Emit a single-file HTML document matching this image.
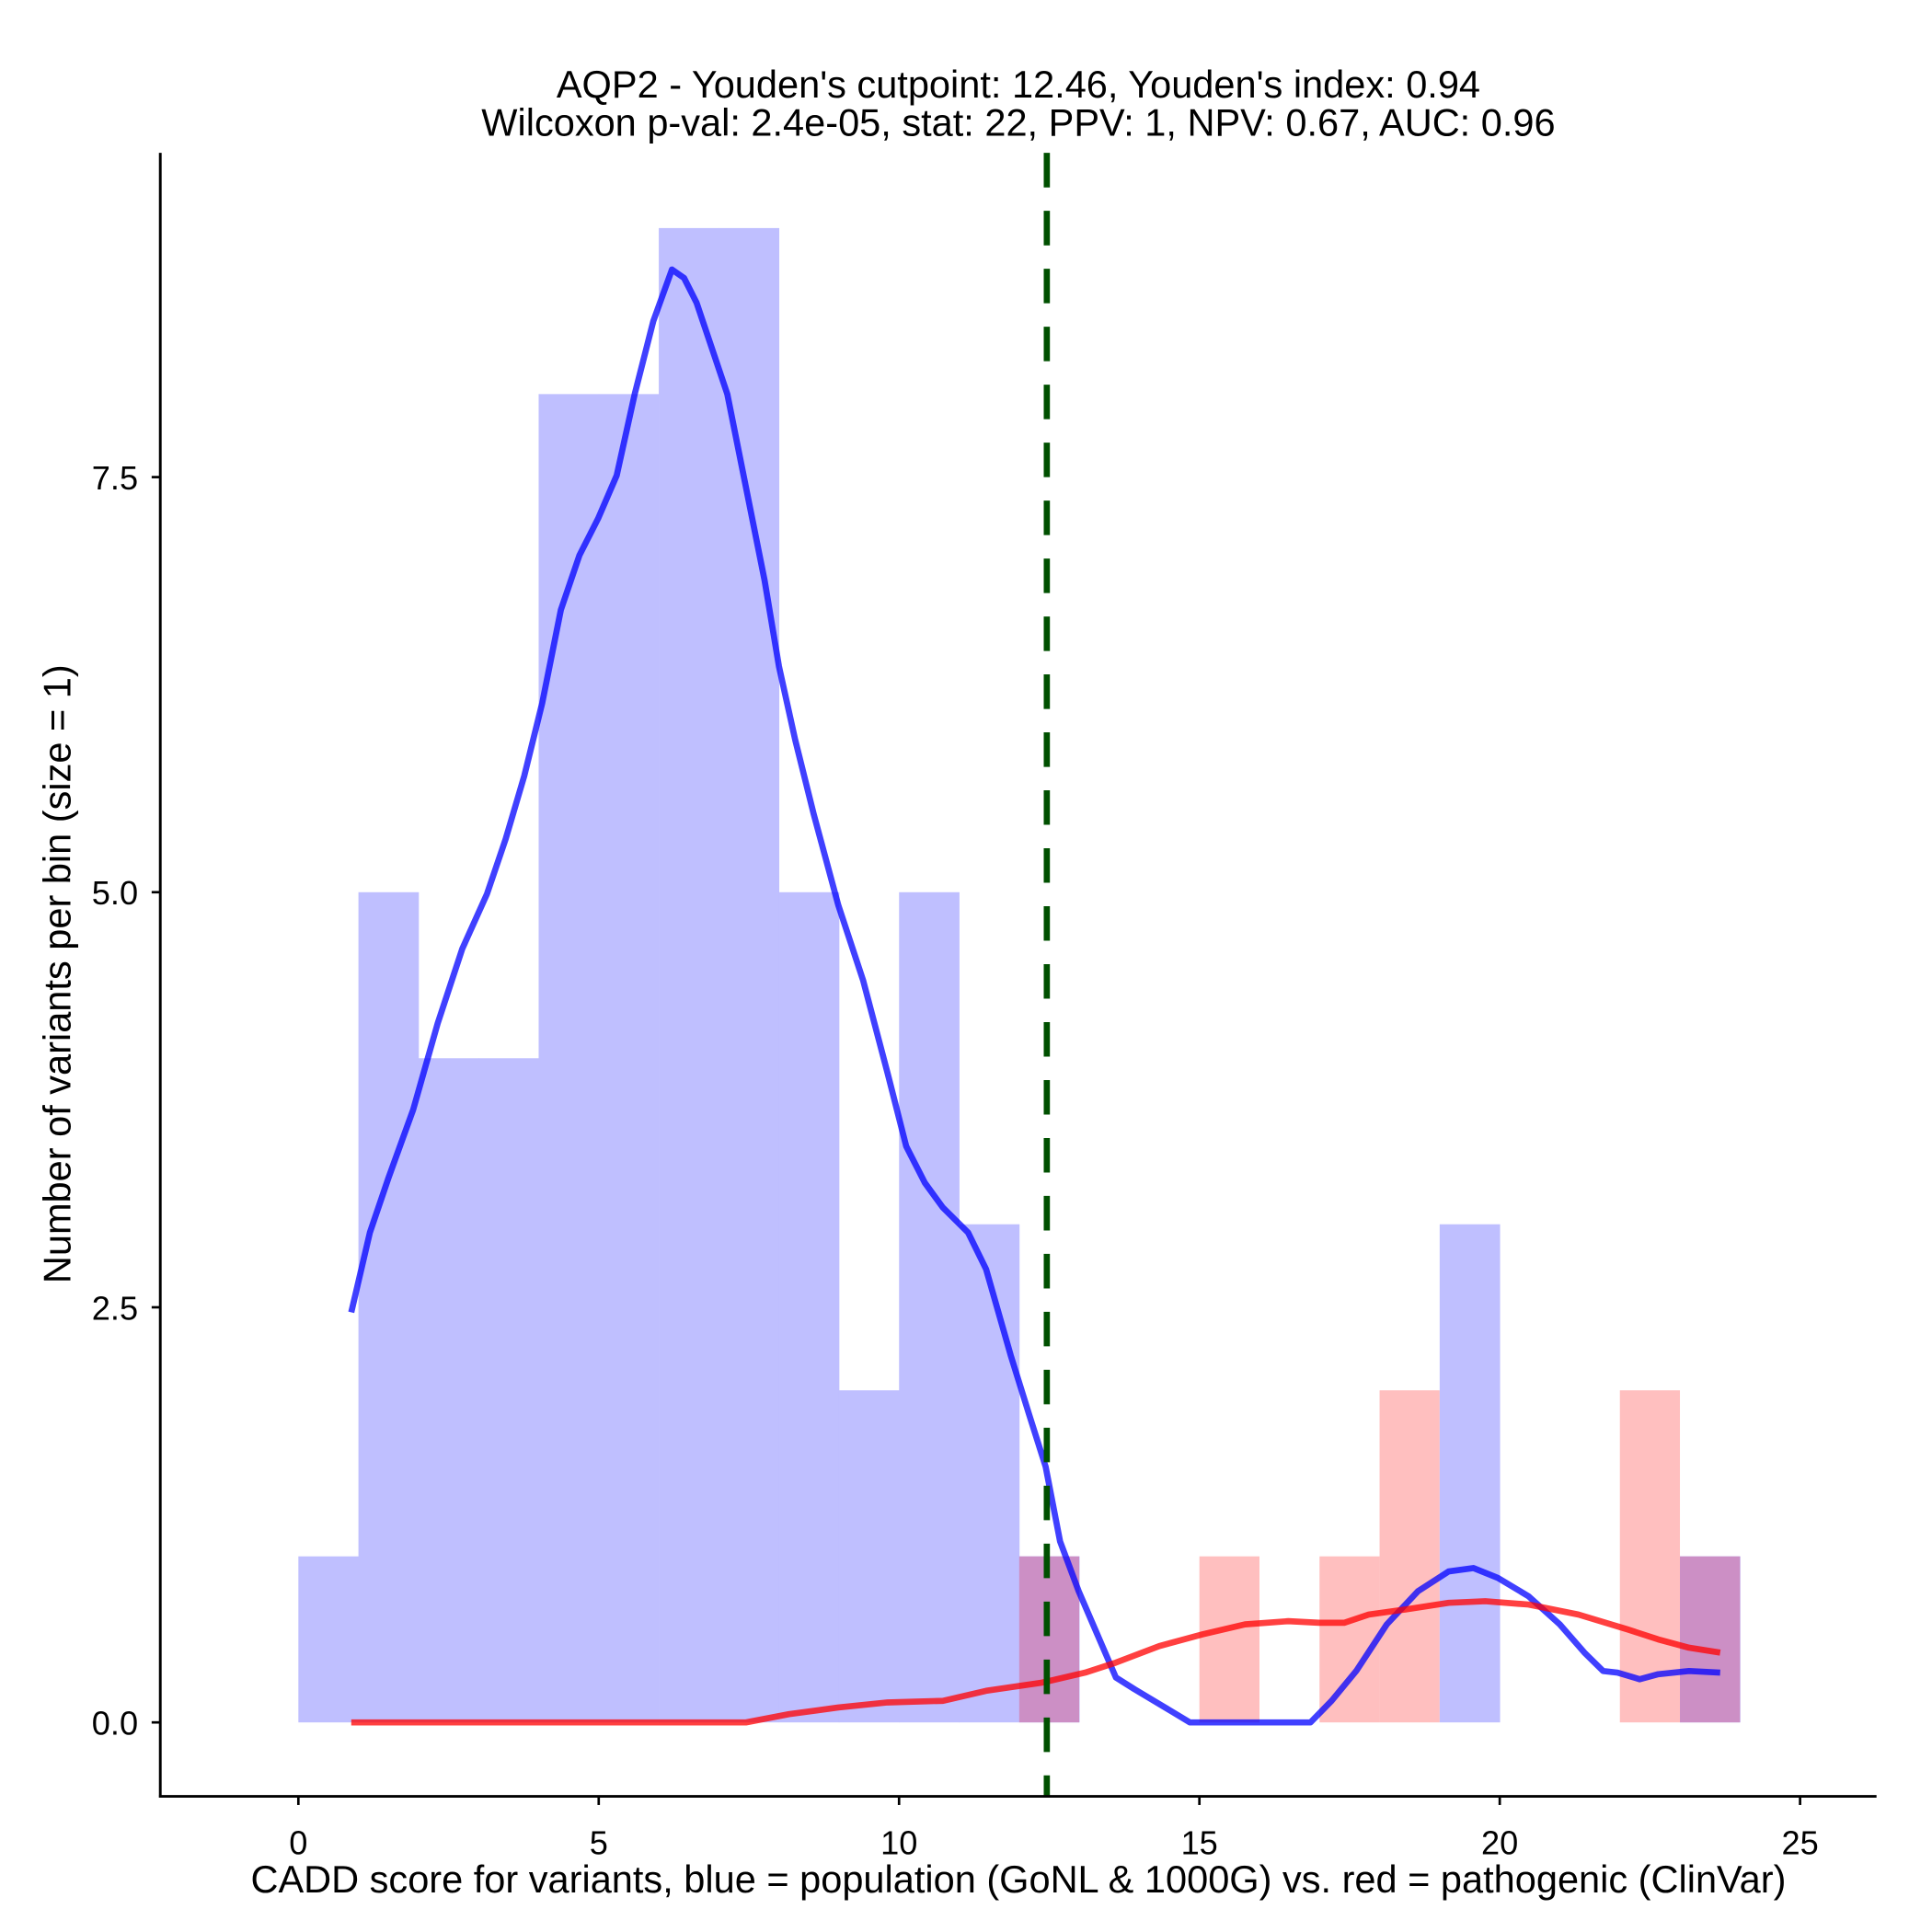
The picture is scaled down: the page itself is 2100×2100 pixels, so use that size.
<!DOCTYPE html>
<html><head><meta charset="utf-8"><style>
html,body{margin:0;padding:0;background:#fff;}
svg{display:block;font-family:"Liberation Sans",Arial,sans-serif;}
</style></head><body>
<svg id="chart" width="2100" height="2100" viewBox="0 0 1567 1567" xmlns="http://www.w3.org/2000/svg">
<rect width="1567" height="1567" fill="#fff"/>
<text x="826" y="79" font-size="31" text-anchor="middle">AQP2 - Youden's cutpoint: 12.46, Youden's index: 0.94</text>
<text x="826" y="110" font-size="31" text-anchor="middle">Wilcoxon p-val: 2.4e-05, stat: 22, PPV: 1, NPV: 0.67, AUC: 0.96</text>
<g id="bars"></g>
<g id="curves"></g>
<g id="axes"></g>
<text x="826" y="1535" font-size="31" text-anchor="middle">CADD score for variants, blue = population (GoNL &amp; 1000G) vs. red = pathogenic (ClinVar)</text>
<text transform="translate(57,790) rotate(-90)" font-size="31" text-anchor="middle">Number of variants per bin (size = 1)</text>
</svg>
<script>
const blueCounts = [1,5,4,4,8,8,9,9,5,2,5,3,1,0,0,0,0,0,0,3,0,0,0,1];
const redCounts  = [0,0,0,0,0,0,0,0,0,0,0,0,1,0,0,1,0,1,2,0,0,0,2,1];
const xTicks = [0,5,10,15,20,25];
const yTicks = [0,2.5,5,7.5];
const yTickLabels = ["0.0","2.5","5.0","7.5"];
const cutpoint = 12.46;
const blueX = [0.88,1.19,1.50,1.91,2.32,2.73,3.14,3.45,3.76,4.06,4.37,4.68,4.99,5.30,5.60,5.91,6.22,6.42,6.63,7.14,7.45,7.76,8.00,8.27,8.58,8.99,9.40,9.81,10.12,10.43,10.73,11.15,11.45,11.86,12.17,12.44,12.68,12.99,13.30,13.61,13.92,14.43,14.84,16.85,17.20,17.61,18.12,18.64,19.15,19.56,19.97,20.48,21.00,21.41,21.72,21.96,22.33,22.64,23.15,23.67];
const blueY = [2.47,2.95,3.28,3.69,4.21,4.66,4.99,5.32,5.70,6.14,6.70,7.03,7.25,7.51,8.00,8.44,8.75,8.70,8.55,8.00,7.44,6.88,6.36,5.92,5.47,4.92,4.47,3.91,3.47,3.25,3.10,2.95,2.73,2.21,1.85,1.54,1.09,0.79,0.53,0.27,0.20,0.09,0,0,0.13,0.31,0.59,0.79,0.91,0.93,0.87,0.76,0.59,0.42,0.31,0.30,0.26,0.29,0.31,0.30];
const redX = [0.88,7.45,8.17,8.99,9.81,10.73,11.45,12.38,13.10,13.61,14.33,15.05,15.76,16.48,16.99,17.41,17.82,18.43,19.15,19.76,20.48,21.31,22.13,22.64,23.15,23.67];
const redY = [0,0,0.05,0.09,0.12,0.13,0.19,0.24,0.30,0.36,0.46,0.53,0.59,0.61,0.60,0.60,0.65,0.68,0.72,0.73,0.71,0.65,0.56,0.50,0.45,0.42];

const NS = "http://www.w3.org/2000/svg";
const X0 = 242, XS = 48.72, Y0 = 1397, YS = 134.67;
const sx = v => X0 + v * XS;
const sy = v => Y0 - v * YS;
function mk(tag, attrs, parent) {
  const e = document.createElementNS(NS, tag);
  for (const k in attrs) e.setAttribute(k, attrs[k]);
  parent.appendChild(e);
  return e;
}
const bars = document.getElementById('bars');
for (let i = 0; i < blueCounts.length; i++) {
  const b = blueCounts[i], r = redCounts[i];
  if (b > 0) {
    const el = mk('rect', {x: sx(i), y: sy(b), width: XS + 0.3, height: sy(0) - sy(b), fill: 'rgb(191,191,255)'}, bars);
    
    
  }
  if (r > 0) {
    const el = mk('rect', {x: sx(i), y: sy(r), width: XS, height: sy(0) - sy(r), fill: b > 0 ? 'rgb(204,143,197)' : 'rgb(255,191,191)'}, bars);
    
    
  }
}
const curves = document.getElementById('curves');
const pts = (xs, ys) => xs.map((x, i) => sx(x).toFixed(1) + ',' + sy(ys[i]).toFixed(1)).join(' ');
const bl = mk('polyline', {points: pts(blueX, blueY), fill: 'none', stroke: 'rgba(0,0,255,0.75)', 'stroke-width': 5, 'stroke-linejoin': 'round'}, curves);


const rl = mk('polyline', {points: pts(redX, redY), fill: 'none', stroke: 'rgba(255,0,0,0.75)', 'stroke-width': 5, 'stroke-linejoin': 'round'}, curves);


const cl = mk('line', {x1: sx(cutpoint), x2: sx(cutpoint), y1: 124, y2: 1457, stroke: '#005000', 'stroke-width': 5, 'stroke-dasharray': '28 19'}, curves);



const axes = document.getElementById('axes');
const ya = mk('line', {x1: 130, x2: 130, y1: 124, y2: 1458, stroke: '#000', 'stroke-width': 2.2}, axes);


const xa = mk('line', {x1: 129, x2: 1522, y1: 1457, y2: 1457, stroke: '#000', 'stroke-width': 2.2}, axes);


xTicks.forEach(v => {
  mk('line', {x1: sx(v), x2: sx(v), y1: 1457, y2: 1464, stroke: '#000', 'stroke-width': 2}, axes);
  const t = mk('text', {x: sx(v), y: 1504, 'font-size': 27, 'text-anchor': 'middle', fill: '#000'}, axes);
  t.textContent = v;
  
  
});
yTicks.forEach((v, i) => {
  mk('line', {x1: 123, x2: 130, y1: sy(v), y2: sy(v), stroke: '#000', 'stroke-width': 2}, axes);
  const t = mk('text', {x: 112, y: sy(v) + 10, 'font-size': 27, 'text-anchor': 'end', fill: '#000'}, axes);
  t.textContent = yTickLabels[i];
  
  
});
</script>
</body></html>
